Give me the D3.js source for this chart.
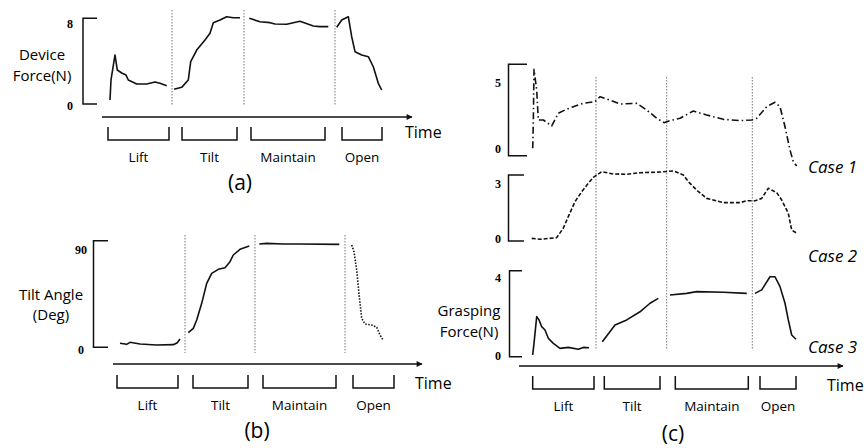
<!DOCTYPE html>
<html>
<head>
<meta charset="utf-8">
<script src="https://cdn.jsdelivr.net/npm/d3@7"></script>
<style>
  body { margin: 0; background: #fff; }
  text { font-family: "Open Sans", "Noto Sans", sans-serif; fill: #000; }
</style>
</head>
<body>
<div id="chart"></div>
<script>
// ---- data (time in s) ----
const phaseNames = ["Lift", "Tilt", "Maintain", "Open"];

// (a) device force, one segment per phase
const deviceForce = [
    [[0.8, 0.59], [0.9, 2.54], [1.3, 4.98], [1.53, 3.51], [1.97, 3.22], [2.4, 3.02], [2.63, 2.54], [3.47, 2.15], [4.47, 2.15], [5.3, 2.34], [5.8, 2.21], [6.47, 1.98]],
    [[7.2, 1.63], [7.97, 1.82], [8.63, 2.54], [8.87, 4.32], [9.47, 5.46], [10.3, 6.44], [10.8, 7.09], [11.13, 8.13], [11.8, 8.39], [12.47, 8.71], [13.13, 8.61], [13.8, 8.61]],
    [[14.73, 8.56], [15.8, 8.22], [16.8, 8.13], [17.3, 8.0], [18.47, 7.97], [19.8, 8.26], [21.13, 7.8], [21.8, 7.74], [22.63, 7.74]],
    [[23.47, 7.68], [23.97, 8.39], [24.63, 8.71], [24.97, 6.76], [25.3, 5.3], [25.97, 4.98], [26.63, 4.81], [27.13, 3.83], [27.63, 2.21], [27.97, 1.56]]
];

// (b) tilt angle
const tiltAngle = [
    [[0.7, 6.0], [1.37, 5.1], [1.7, 6.9], [2.7, 5.4], [4.37, 4.5], [6.03, 4.8], [6.43, 6.6], [6.7, 9.9]],
    [[7.53, 15.6], [8.03, 19.5], [8.37, 27], [8.87, 42], [9.37, 60], [9.87, 69], [10.53, 72.6], [11.2, 74.1], [11.7, 79.5], [12.03, 85.5], [12.7, 90.6], [13.63, 93.6]],
    [[14.63, 95.4], [15.37, 96], [17.03, 95.4], [18.7, 95.4], [22.63, 95.1]],
    [[23.87, 94.5], [24.1, 88.5], [24.37, 72], [24.63, 48], [24.87, 28.5], [25.2, 23.4], [25.87, 22.5], [26.37, 20.4], [26.7, 13.5], [26.97, 9.6]]
];

// (c) grasping force, three cases
const graspCase1 = [[1.37, 0.08], [1.43, 1.97], [1.5, 6.06], [1.77, 4.49], [1.93, 2.22], [2.43, 2.22], [3.27, 1.77], [3.93, 2.73], [4.6, 2.98], [5.43, 3.23], [6.43, 3.48], [7.6, 3.61], [8.1, 3.98], [9.1, 3.73], [10.1, 3.43], [11.77, 3.48], [12.77, 2.98], [13.77, 2.35], [14.5, 2.02], [15.1, 2.17], [16.1, 2.35], [17.43, 2.9], [18.77, 2.6], [20.43, 2.27], [22.1, 2.17], [23.27, 2.22], [23.77, 2.35], [24.77, 3.23], [25.6, 3.56], [26.1, 3.23], [26.6, 1.71], [27.1, -0.05], [27.43, -0.94], [27.77, -1.27]];
const graspCase2 = [[1.27, 0.05], [2.1, 0], [3.77, 0.09], [4.43, 0.6], [4.93, 1.23], [5.6, 2.04], [6.27, 2.58], [6.93, 3.04], [7.43, 3.36], [8.27, 3.67], [9.43, 3.54], [10.77, 3.53], [12.1, 3.61], [14.1, 3.65], [15.43, 3.71], [16.43, 3.49], [16.93, 3.13], [17.77, 2.67], [18.77, 2.22], [20.43, 1.99], [22.1, 1.99], [22.77, 2.09], [23.6, 2.09], [24.27, 2.22], [24.93, 2.77], [25.77, 2.53], [26.27, 2.13], [26.93, 1.41], [27.27, 0.5], [27.77, 0.33]];
const graspCase3 = [
    [[1.37, 0.04], [1.5, 0.64], [1.77, 2.02], [2.0, 1.85], [2.27, 1.5], [2.6, 1.33], [2.93, 0.9], [3.43, 0.64], [4.1, 0.38], [4.93, 0.43], [5.93, 0.33], [6.43, 0.43], [7.0, 0.41]],
    [[8.33, 0.72], [8.77, 1.02], [9.6, 1.59], [10.77, 1.85], [12.1, 2.27], [13.1, 2.71], [13.93, 2.96]],
    [[15.1, 3.14], [16.77, 3.22], [17.77, 3.31], [20.43, 3.28], [22.77, 3.22]],
    [[23.6, 3.22], [24.27, 3.4], [25.1, 4.08], [25.6, 4.08], [26.1, 3.57], [26.6, 2.71], [26.93, 1.85], [27.27, 1.07], [27.7, 0.85]]
];

// phase spans and boundaries (time)
const phaseSpansA = [[0.6, 6.7], [8.0, 13.5], [14.9, 22.3], [24.0, 28.0]];
const phaseSpansB = [[0.4, 6.5], [8.0, 13.5], [15.0, 22.3], [24.0, 28.1]];
const phaseSpansC = [[1.37, 7.5], [8.53, 14.1], [15.63, 22.93], [24.1, 27.7]];
const boundsA = [7.0, 14.2, 23.3];
const boundsB = [7.2, 14.2, 23.2];
const boundsC = [7.7, 14.77, 23.33];

const ticksA = [0, 8];
const ticksB = [0, 90];
const ticksC1 = [0, 5];
const ticksC2 = [0, 3];
const ticksC3 = [0, 4];


const svg = d3.select("#chart")
    .append("svg")
    .attr("width", 866)
    .attr("height", 448)
    .style("background", "#fff");

svg.append("defs")
    .append("marker")
    .attr("id", "arrow")
    .attr("viewBox", "0 0 10 10")
    .attr("refX", 9)
    .attr("refY", 5)
    .attr("markerUnits", "userSpaceOnUse")
    .attr("markerWidth", 8)
    .attr("markerHeight", 6)
    .attr("orient", "auto")
    .append("path")
    .attr("d", "M0,0L10,5L0,10z")
    .attr("fill", "#111");

// time axis, phase brackets, boundaries
function drawTime(x, cfg) {
    const g = svg.append("g");
    g.append("line")
        .attr("x1", x.range()[0]).attr("x2", x.range()[1])
        .attr("y1", cfg.axisY).attr("y2", cfg.axisY)
        .attr("stroke", "#111").attr("stroke-width", 1.5)
        .attr("marker-end", "url(#arrow)");

    g.selectAll("line.bound")
        .data(cfg.bounds)
        .enter()
        .append("line")
        .attr("class", "bound")
        .attr("x1", (d) => x(d)).attr("x2", (d) => x(d))
        .attr("y1", cfg.boundTop).attr("y2", cfg.boundBottom)
        .attr("stroke", "#777").attr("stroke-width", 1)
        .attr("stroke-dasharray", "1.5,1.5");

    g.selectAll("path.phase")
        .data(cfg.spans)
        .enter()
        .append("path")
        .attr("class", "phase")
        .attr("d", (d) => `M${x(d[0])},${cfg.brTop}V${cfg.brTop + 13}H${x(d[1])}V${cfg.brTop}`)
        .attr("fill", "none").attr("stroke", "#111").attr("stroke-width", 1.5);

    g.selectAll("text.phase")
        .data(cfg.spans)
        .enter()
        .append("text")
        .attr("class", "phase")
        .attr("x", (d) => x((d[0] + d[1]) / 2))
        .attr("y", cfg.brTop + 30)
        .attr("text-anchor", "middle")
        .attr("dominant-baseline", "central")
        .attr("font-size", 13.5)
        .text((d, i) => phaseNames[i]);

    g.append("text")
        .attr("x", cfg.timeX).attr("y", cfg.timeY)
        .attr("dominant-baseline", "central")
        .attr("font-size", 16)
        .text("Time");

    g.append("text")
        .attr("x", cfg.labelX).attr("y", cfg.labelY)
        .attr("text-anchor", "middle")
        .attr("dominant-baseline", "central")
        .attr("font-size", 21)
        .text(cfg.label);
}

// y bracket with two tick numbers
function drawBracket(y, ext, bx, tx, ticks, lx) {
    svg.append("path")
        .attr("d", `M${tx},${y(ext[1])}H${bx}V${y(ext[0])}H${tx}`)
        .attr("fill", "none").attr("stroke", "#111").attr("stroke-width", 1.5);
    svg.append("g").selectAll("text")
        .data(ticks)
        .enter()
        .append("text")
        .attr("x", lx)
        .attr("y", (d) => y(d))
        .attr("text-anchor", "middle")
        .attr("dominant-baseline", "central")
        .attr("font-size", 12)
        .attr("font-weight", "bold")
        .style("font-family", "'Liberation Serif', serif")
        .text((d) => d);
}

function drawLines(segs, x, y, dash) {
    const line = d3.line().x((d) => x(d[0])).y((d) => y(d[1]));
    svg.append("g").selectAll("path")
        .data(segs)
        .enter()
        .append("path")
        .attr("d", line)
        .attr("fill", "none")
        .attr("stroke", "#111")
        .attr("stroke-width", 1.6)
        .attr("stroke-linejoin", "round")
        .attr("stroke-dasharray", (d, i) => (typeof dash === "function" ? dash(i) : dash));
}

function multiText(lines, x, y0, dy, size) {
    svg.append("g").selectAll("text")
        .data(lines)
        .enter()
        .append("text")
        .attr("x", x)
        .attr("y", (d, i) => y0 + i * dy)
        .attr("text-anchor", "middle")
        .attr("dominant-baseline", "central")
        .attr("font-size", size)
        .text((d) => d);
}

// ---- panel (a) ----
const xA = d3.scaleLinear().domain([0, 31]).range([102, 412]);
const yA = d3.scaleLinear().domain([0, 8]).range([106, 24]);
drawBracket(yA, [0.2, 8.55], 83, 97, ticksA, 70);
drawTime(xA, { axisY: 117, bounds: boundsA, boundTop: 10, boundBottom: 105, spans: phaseSpansA, brTop: 127, timeX: 405, timeY: 132, labelX: 240, labelY: 182, label: "(a)" });
drawLines(deviceForce, xA, yA, null);
multiText(["Device", "Force(N)"], 42, 54, 20.5, 15);

// ---- panel (b) ----
const xB = d3.scaleLinear().domain([0, 30.9]).range([113, 422]);
const yB = d3.scaleLinear().domain([0, 90]).range([350, 250]);
drawBracket(yB, [2.4, 98.4], 93.5, 108, ticksB, 81);
drawTime(xB, { axisY: 364, bounds: boundsB, boundTop: 235, boundBottom: 353, spans: phaseSpansB, brTop: 375, timeX: 415, timeY: 383, labelX: 257, labelY: 430, label: "(b)" });
drawLines(tiltAngle, xB, yB, (i) => (i === 3 ? "1.5,1.5" : null));
multiText(["Tilt Angle", "(Deg)"], 51, 293.5, 20.5, 15);

// ---- panel (c) ----
const xC = d3.scaleLinear().domain([0, 32.4]).range([519, 843]);
const yC1 = d3.scaleLinear().domain([0, 5]).range([149.3, 83.3]);
const yC2 = d3.scaleLinear().domain([0, 3]).range([239.3, 184]);
const yC3 = d3.scaleLinear().domain([0, 4]).range([355.7, 278.3]);
drawBracket(yC1, [-0.48, 6.44], 508.5, 527, ticksC1, 498);
drawBracket(yC2, [-0.09, 3.49], 508.5, 524, ticksC2, 498);
drawBracket(yC3, [-0.05, 4.39], 509.5, 522, ticksC3, 498);
drawTime(xC, { axisY: 366, bounds: boundsC, boundTop: 77, boundBottom: 349, spans: phaseSpansC, brTop: 376, timeX: 827, timeY: 385, labelX: 673, labelY: 433, label: "(c)" });
drawLines([graspCase1], xC, yC1, "7,3,1.5,3");
drawLines([graspCase2], xC, yC2, "4,2");
drawLines(graspCase3, xC, yC3, null);
multiText(["Grasping", "Force(N)"], 469, 310, 20.5, 15);

svg.append("g").selectAll("text")
    .data(["Case 1", "Case 2", "Case 3"])
    .enter()
    .append("text")
    .attr("x", 808)
    .attr("y", (d, i) => [166, 255, 346][i])
    .attr("dominant-baseline", "central")
    .attr("font-size", 17)
    .attr("font-style", "italic")
    .text((d) => d);
</script>
</body>
</html>
